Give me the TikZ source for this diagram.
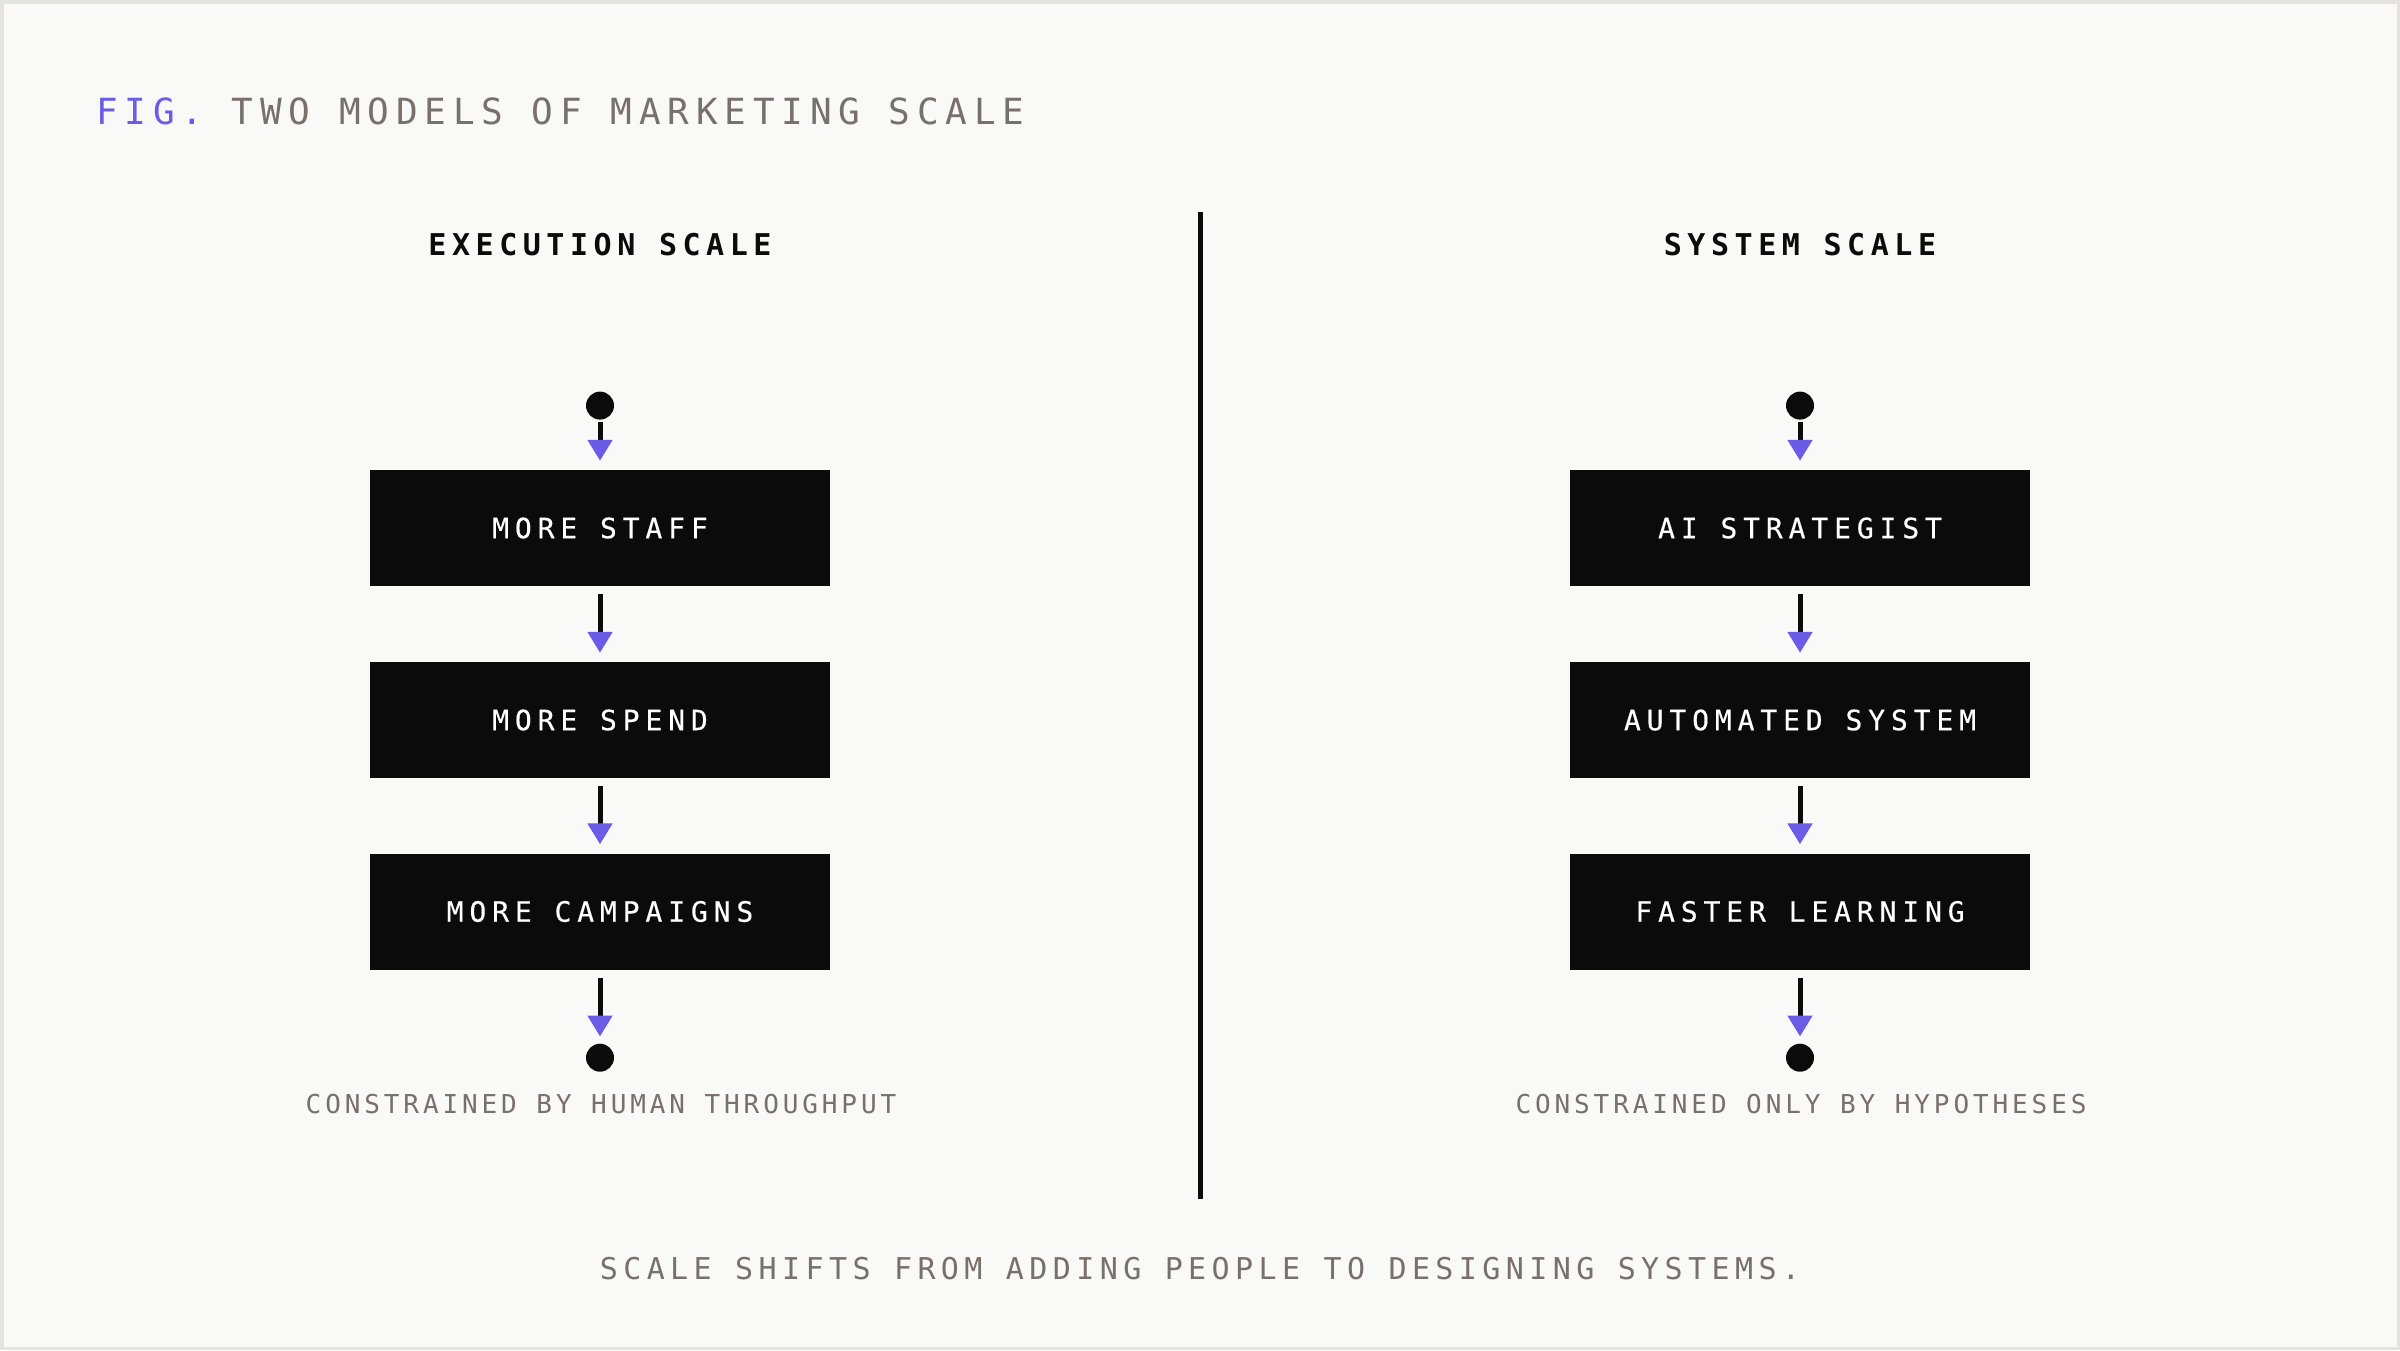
\documentclass[tikz,border=0pt]{standalone}
\usepackage{fontspec}
\usetikzlibrary{arrows.meta}
\newfontfamily\ftitle{DejaVu Sans Mono}[LetterSpace=19]
\newfontfamily\fhead{DejaVu Sans Mono}[LetterSpace=18.5]
\newfontfamily\fstep{DejaVu Sans Mono}[LetterSpace=21,FakeBold=0.4]
\newfontfamily\flabel{DejaVu Sans Mono}[LetterSpace=15]
\newfontfamily\fcap{DejaVu Sans Mono}[LetterSpace=18]
\definecolor{bg}{HTML}{F9F9F7}
\definecolor{frame}{HTML}{E5E3E0}
\definecolor{ink}{HTML}{0B0B0B}
\definecolor{accent}{HTML}{6B5CE7}
\definecolor{muted}{HTML}{77706B}
\tikzset{
  titletext/.style={anchor=base west, inner sep=0pt, text=muted, font=\ftitle\fontsize{36}{40}\selectfont},
  headtext/.style={inner sep=0pt, text=ink, font=\fhead\bfseries\fontsize{30}{34}\selectfont},
  stepbox/.style={rectangle, fill=ink, minimum width=460pt, minimum height=116pt, inner sep=0pt, text=white, font=\fstep\fontsize{28}{32}\selectfont},
  enddot/.style={circle, fill=ink, minimum size=28pt, inner sep=0pt},
  labeltext/.style={inner sep=0pt, text=muted, font=\flabel\fontsize{26}{30}\selectfont},
  captext/.style={inner sep=0pt, text=muted, font=\fcap\fontsize{30}{34}\selectfont},
  conn/.style={draw=ink, line width=5pt, -{Triangle[width=24pt,length=21pt,color=accent]}},
  divider/.style={draw=ink, line width=5pt}
}
\begin{document}
\begin{tikzpicture}[x=1pt,y=-1pt]
\useasboundingbox (0,0) rectangle (2400,1350);
\fill[frame] (0,0) rectangle (2400,1350);
\fill[bg] (3.5,3.5) rectangle (2396.5,1346.5);

\node[titletext] (title) at (96,124) {\textcolor{accent}{FIG.} TWO MODELS OF MARKETING SCALE};

\node[headtext] (hl) at (600,245) {EXECUTION SCALE};
\node[headtext] (hr) at (1800,245) {SYSTEM SCALE};

\coordinate (dtop) at (1200,212);
\coordinate (dbot) at (1200,1199);
\draw[divider] (dtop) -- (dbot);

% left column
\node[enddot] (l0) at (600,405.6) {};
\node[stepbox] (l1) at (600,528) {MORE STAFF};
\node[stepbox] (l2) at (600,720) {MORE SPEND};
\node[stepbox] (l3) at (600,911.5) {MORE CAMPAIGNS};
\node[enddot] (l4) at (600,1057.7) {};
\node[labeltext] (ll) at (601,1104) {CONSTRAINED BY HUMAN THROUGHPUT};

% right column
\node[enddot] (r0) at (1800,405.6) {};
\node[stepbox] (r1) at (1800,528) {AI STRATEGIST};
\node[stepbox] (r2) at (1800,720) {AUTOMATED SYSTEM};
\node[stepbox] (r3) at (1800,911.5) {FASTER LEARNING};
\node[enddot] (r4) at (1800,1057.7) {};
\node[labeltext] (rl) at (1801,1104) {CONSTRAINED ONLY BY HYPOTHESES};

\foreach \c in {l,r}{
  \draw[conn, shorten <=2pt, shorten >=9pt] (\c0) -- (\c1);
  \draw[conn, shorten <=8pt, shorten >=9pt] (\c1) -- (\c2);
  \draw[conn, shorten <=8pt, shorten >=9pt] (\c2) -- (\c3);
  \draw[conn, shorten <=8pt, shorten >=7pt] (\c3) -- (\c4);
}

\node[captext] (cap) at (1200,1269) {SCALE SHIFTS FROM ADDING PEOPLE TO DESIGNING SYSTEMS.};
\end{tikzpicture}
\end{document}
